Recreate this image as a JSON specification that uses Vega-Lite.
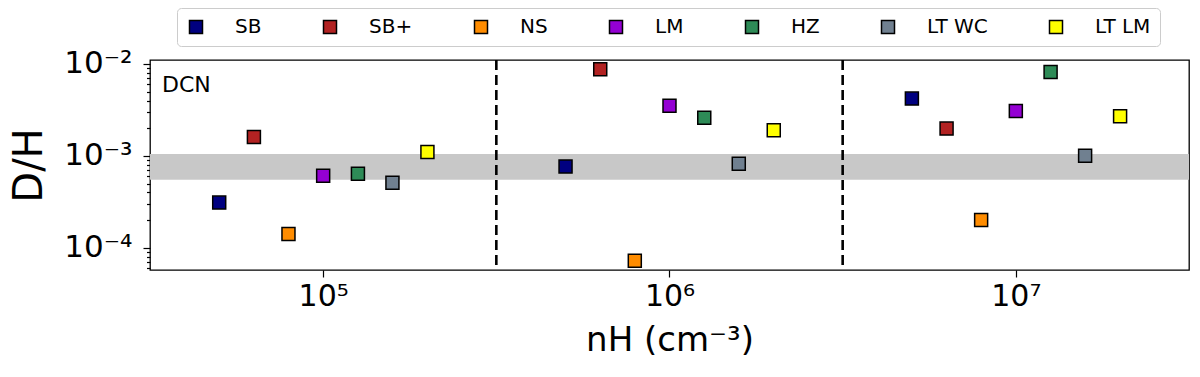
{
  "$schema": "https://vega.github.io/schema/vega-lite/v6.json",
  "width": 1039,
  "height": 210,
  "autosize": {"type": "none"},
  "padding": {"left": 150, "top": 60, "right": 11, "bottom": 107},
  "background": "white",
  "config": {
    "view": {"stroke": "black", "strokeWidth": 1.3},
    "font": "DejaVu Sans",
    "axis": {"labelFont": "DejaVu Sans", "titleFont": "DejaVu Sans", "labelColor": "black", "titleColor": "black", "tickColor": "black", "domain": false, "grid": false, "titleFontWeight": "normal", "tickWidth": 1.2}
  },
  "layer": [
    {
      "data": {"values": [{"DH": 0.00055, "DH2": 0.00105}]},
      "mark": {"type": "rect", "color": "#c8c8c8"},
      "encoding": {
        "y": {"field": "DH", "type": "quantitative", "scale": {"type": "log", "domain": [0.0000572, 0.01105], "nice": false, "zero": false},
          "axis": {"title": "D/H", "titleFontSize": 40, "titlePadding": 14, "labelFontSize": 31, "labelPadding": 11, "labelOverlap": false, "labelFlush": false,
            "values": [0.00006, 0.00007, 0.00008, 0.00009, 0.0001, 0.0002, 0.0003, 0.0004, 0.0005, 0.0006, 0.0007, 0.0008, 0.0009, 0.001, 0.002, 0.003, 0.004, 0.005, 0.006, 0.007, 0.008, 0.009, 0.01],
            "tickSize": {"condition": {"test": "abs(log(datum.value)/LN10 - round(log(datum.value)/LN10)) < 0.001", "value": 7}, "value": 3.5},
            "labelExpr": "abs(log(datum.value)/LN10 - round(log(datum.value)/LN10)) < 0.001 ? '10⁻' + ['⁰','¹','²','³','⁴','⁵','⁶','⁷','⁸','⁹'][abs(round(log(datum.value)/LN10))] : ''"}},
        "y2": {"field": "DH2"}
      }
    },
    {
      "data": {"values": [{"nH": 316228}, {"nH": 3162278}]},
      "mark": {"type": "rule", "color": "black", "strokeWidth": 2.6, "strokeDash": [10, 5]},
      "encoding": {
        "x": {"field": "nH", "type": "quantitative", "scale": {"type": "log", "domain": [31623, 31622777], "nice": false, "zero": false},
          "axis": {"title": "nH (cm⁻³)", "titleFontSize": 34, "titlePadding": 12, "values": [100000, 1000000, 10000000], "labelFontSize": 30, "labelPadding": 4, "tickSize": 7, "labelFlush": false, "labelOverlap": false,
            "labelExpr": "'10' + ['⁰','¹','²','³','⁴','⁵','⁶','⁷','⁸','⁹'][round(log(datum.value)/LN10)]"}}
      }
    },
    {
      "data": {"values": [{"label": "DCN"}]},
      "mark": {"type": "text", "align": "left", "baseline": "alphabetic", "fontSize": 22, "font": "DejaVu Sans", "color": "black"},
      "encoding": {
        "text": {"field": "label"},
        "x": {"datum": 34260, "type": "quantitative"},
        "y": {"datum": 0.00496, "type": "quantitative"}
      }
    },
    {
      "data": {"values": [
        {"group": "SB", "nH": 50100, "DH": 0.00031},
        {"group": "SB+", "nH": 63100, "DH": 0.0016},
        {"group": "NS", "nH": 79400, "DH": 0.000141},
        {"group": "LM", "nH": 100000, "DH": 0.000607},
        {"group": "HZ", "nH": 126000, "DH": 0.000637},
        {"group": "LT WC", "nH": 158500, "DH": 0.00051},
        {"group": "LT LM", "nH": 200000, "DH": 0.0011},
        {"group": "SB", "nH": 501000, "DH": 0.000765},
        {"group": "SB+", "nH": 631000, "DH": 0.00875},
        {"group": "NS", "nH": 794000, "DH": 0.000072},
        {"group": "LM", "nH": 1000000, "DH": 0.0035},
        {"group": "HZ", "nH": 1260000, "DH": 0.0026},
        {"group": "LT WC", "nH": 1585000, "DH": 0.00082},
        {"group": "LT LM", "nH": 2000000, "DH": 0.0019},
        {"group": "SB", "nH": 5010000, "DH": 0.0042},
        {"group": "SB+", "nH": 6310000, "DH": 0.00198},
        {"group": "NS", "nH": 7940000, "DH": 0.0002},
        {"group": "LM", "nH": 10000000, "DH": 0.00308},
        {"group": "HZ", "nH": 12600000, "DH": 0.0082},
        {"group": "LT WC", "nH": 15850000, "DH": 0.001},
        {"group": "LT LM", "nH": 20000000, "DH": 0.0027}
      ]},
      "mark": {"type": "square", "size": 169, "opacity": 1, "stroke": "black", "strokeWidth": 1.5},
      "encoding": {
        "x": {"field": "nH", "type": "quantitative",
          "scale": {"type": "log", "domain": [31623, 31622777], "nice": false, "zero": false},
          "axis": {"title": "nH (cm⁻³)", "titleFontSize": 34, "titlePadding": 12, "values": [100000, 1000000, 10000000], "labelFontSize": 30, "labelPadding": 4, "tickSize": 7, "labelFlush": false, "labelOverlap": false,
            "labelExpr": "'10' + ['⁰','¹','²','³','⁴','⁵','⁶','⁷','⁸','⁹'][round(log(datum.value)/LN10)]"}},
        "y": {"field": "DH", "type": "quantitative",
          "scale": {"type": "log", "domain": [0.0000572, 0.01105], "nice": false, "zero": false},
          "axis": {"title": "D/H", "titleFontSize": 40, "titlePadding": 14, "labelFontSize": 31, "labelPadding": 11, "labelOverlap": false, "labelFlush": false,
            "values": [0.00006, 0.00007, 0.00008, 0.00009, 0.0001, 0.0002, 0.0003, 0.0004, 0.0005, 0.0006, 0.0007, 0.0008, 0.0009, 0.001, 0.002, 0.003, 0.004, 0.005, 0.006, 0.007, 0.008, 0.009, 0.01],
            "tickSize": {"condition": {"test": "abs(log(datum.value)/LN10 - round(log(datum.value)/LN10)) < 0.001", "value": 7}, "value": 3.5},
            "labelExpr": "abs(log(datum.value)/LN10 - round(log(datum.value)/LN10)) < 0.001 ? '10⁻' + ['⁰','¹','²','³','⁴','⁵','⁶','⁷','⁸','⁹'][abs(round(log(datum.value)/LN10))] : ''"}},
        "color": {"field": "group", "type": "nominal",
          "scale": {"domain": ["SB", "SB+", "NS", "LM", "HZ", "LT WC", "LT LM"], "range": ["#000080", "#b22222", "#ff8c00", "#9400d3", "#2e8b57", "#708090", "#ffff00"]},
          "legend": {"orient": "none", "legendX": 27, "legendY": -52, "direction": "horizontal", "title": null, "symbolType": "square", "symbolSize": 169, "symbolStrokeColor": "black", "symbolStrokeWidth": 1.5, "symbolOpacity": 1, "labelFontSize": 20, "labelFont": "DejaVu Sans", "labelColor": "black", "labelOffset": 29, "columnPadding": 58, "padding": 9, "strokeColor": "#cccccc", "fillColor": "white", "cornerRadius": 4}}
      }
    }
  ]
}
